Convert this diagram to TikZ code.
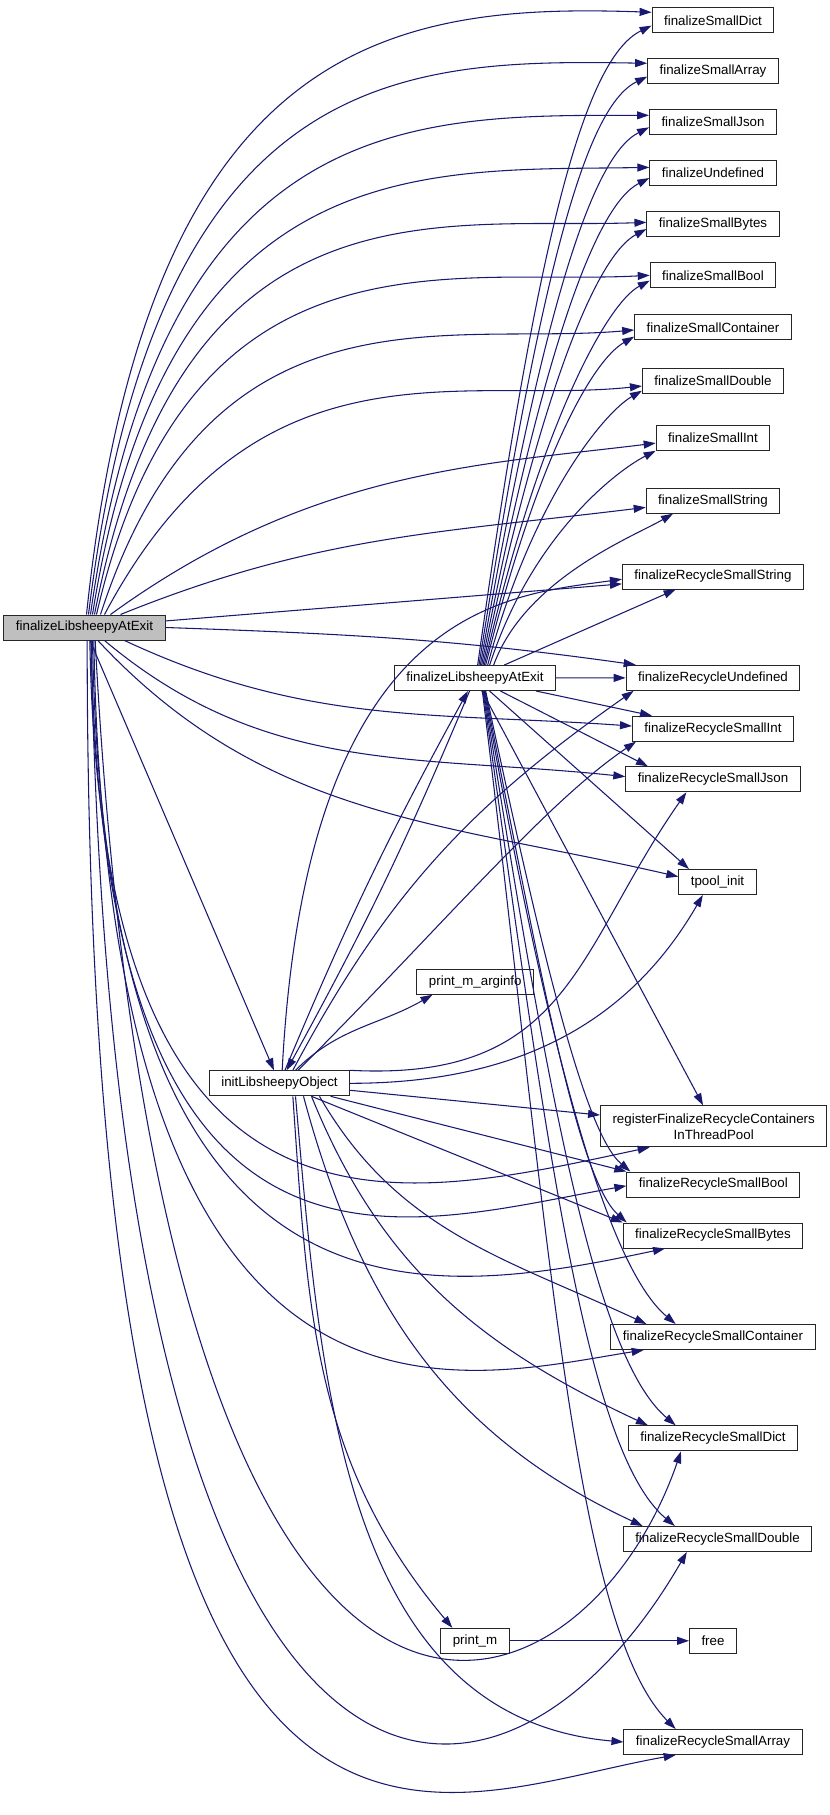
\documentclass[tikz,border=0pt]{standalone}
\usepackage{fontspec}
\setmainfont{Liberation Sans}
\usetikzlibrary{arrows.meta}
\definecolor{edgeblue}{HTML}{191970}
\definecolor{rootgray}{HTML}{BFBFBF}
\begin{document}
\begin{tikzpicture}[x=0.75pt, y=0.75pt,
    fn/.style={draw=black!85, fill=white, line width=0.75pt, font=\fontsize{10}{12}\selectfont,
               inner xsep=9pt, inner ysep=0pt, minimum height=18.75pt},
    call/.style={draw=edgeblue, line width=0.8pt, -{Triangle[length=9pt,width=6pt]}}]
  \useasboundingbox (0,0) rectangle (829,-1815);
  % callers
  \node[fn, fill=rootgray] (R) at (84.5,-627.5) {finalizeLibsheepyAtExit};
  \node[fn] (F2) at (475,-678) {finalizeLibsheepyAtExit};
  \node[fn] (init) at (279.5,-1083.3) {initLibsheepyObject};
  \node[fn] (pArg) at (475.3,-981.7) {print\_m\_arginfo};
  \node[fn] (pM) at (475,-1640.8) {print\_m};
  \node[fn] (free) at (713,-1640.8) {free};
  % small objects
  \node[fn] (sDict) at (713,-20.3) {finalizeSmallDict};
  \node[fn] (sArray) at (713,-71.3) {finalizeSmallArray};
  \node[fn] (sJson) at (713,-122) {finalizeSmallJson};
  \node[fn] (sUndef) at (713,-172.7) {finalizeUndefined};
  \node[fn] (sBytes) at (713,-223.7) {finalizeSmallBytes};
  \node[fn] (sBool) at (713,-275.3) {finalizeSmallBool};
  \node[fn] (sCont) at (713,-327.3) {finalizeSmallContainer};
  \node[fn] (sDouble) at (713,-380.7) {finalizeSmallDouble};
  \node[fn] (sInt) at (713,-437.8) {finalizeSmallInt};
  \node[fn] (sString) at (713,-500.7) {finalizeSmallString};
  % recycle
  \node[fn] (rString) at (713,-576.5) {finalizeRecycleSmallString};
  \node[fn] (rUndef) at (713,-677.8) {finalizeRecycleUndefined};
  \node[fn] (rInt) at (713,-728.7) {finalizeRecycleSmallInt};
  \node[fn] (rJson) at (713,-779.3) {finalizeRecycleSmallJson};
  \node[fn] (tpool) at (717.5,-882) {tpool\_init};
  \node[fn, align=center, minimum height=30.75pt] (reg) at (713.7,-1126.3) {registerFinalizeRecycleContainers\\InThreadPool};
  \node[fn] (rBool) at (713.3,-1184.5) {finalizeRecycleSmallBool};
  \node[fn] (rBytes) at (713,-1235.5) {finalizeRecycleSmallBytes};
  \node[fn] (rCont) at (713,-1337) {finalizeRecycleSmallContainer};
  \node[fn] (rDict) at (713,-1438.3) {finalizeRecycleSmallDict};
  \node[fn] (rDouble) at (717.5,-1539) {finalizeRecycleSmallDouble};
  \node[fn] (rArray) at (713,-1742) {finalizeRecycleSmallArray};

  % root -> small
  \path ([xshift=1.5pt]R.north) edge[call, out=84, in=178, out looseness=1.8, in looseness=0.8] ([yshift=6pt]sDict.west);
  \path ([xshift=3pt]R.north) edge[call, out=83, in=179, out looseness=1.8, in looseness=0.8] ([yshift=6pt]sArray.west);
  \path ([xshift=4.5pt]R.north) edge[call, out=82, in=180, out looseness=1.75, in looseness=0.8] ([yshift=5pt]sJson.west);
  \path ([xshift=6pt]R.north) edge[call, out=81, in=181, out looseness=1.7, in looseness=0.8] ([yshift=4pt]sUndef.west);
  \path ([xshift=7.5pt]R.north) edge[call, out=79, in=182, out looseness=1.7, in looseness=0.8] ([yshift=1pt]sBytes.west);
  \path ([xshift=9pt]R.north) edge[call, out=77, in=183, out looseness=1.6, in looseness=0.8] (sBool.west);
  \path ([xshift=12pt]R.north) edge[call, out=72, in=185, out looseness=1.5, in looseness=0.8] ([yshift=-2pt]sCont.west);
  \path ([xshift=15pt]R.north) edge[call, out=62, in=186, out looseness=1.4, in looseness=0.8] ([yshift=-4pt]sDouble.west);
  \path ([xshift=19.5pt]R.north) edge[call, out=36, in=187, out looseness=1.1, in looseness=0.8] ([yshift=-4pt]sInt.west);
  \path ([xshift=27pt]R.north) edge[call, out=22, in=187] ([yshift=-5pt]sString.west);
  % root -> recycle
  \path (R) edge[call] (rString);
  \path (R.east) edge[call, out=-2, in=172] ([xshift=7.5pt]rUndef.north west);
  \path ([xshift=30pt]R.south) edge[call, out=-25, in=176] ([yshift=2pt]rInt.west);
  \path ([xshift=15pt]R.south) edge[call, out=-40, in=174] ([yshift=2pt]rJson.west);
  \path ([xshift=10pt]R.south) edge[call, out=-47, in=167] ([yshift=4pt]tpool.west);
  \path (R) edge[call] (init);
  \path ([xshift=4pt]R.south) edge[call, out=-89, in=192, out distance=480pt, in distance=191pt] ([xshift=-48pt]reg.south);
  \path ([xshift=5pt]R.south) edge[call, out=-89, in=190, out distance=518pt, in distance=173pt] ([yshift=-1pt]rBool.west);
  \path ([xshift=6pt]R.south) edge[call, out=-89, in=192, out distance=532pt, in distance=188pt] ([xshift=-36pt]rBytes.south);
  \path ([xshift=7pt]R.south) edge[call, out=-89, in=189, out distance=630pt, in distance=140pt] ([xshift=-52pt]rCont.south);
  \path ([xshift=8pt]R.south) edge[call, out=-87, in=251, out distance=946pt, in distance=236pt] ([xshift=-24pt]rDict.south);
  \path ([xshift=5pt]R.south) edge[call, out=-89, in=240, out distance=945pt, in distance=283pt] ([xshift=-23pt]rDouble.south);
  \path ([xshift=2pt]R.south) edge[call, out=-90, in=190, out distance=1020pt, in distance=194pt] ([xshift=-28pt]rArray.south);

  % inner finalize -> small
  \path ([xshift=2pt]F2.north) edge[call, out=82, in=206, out looseness=1.6, in looseness=0.3] ([yshift=-4pt]sDict.west);
  \path ([xshift=3pt]F2.north) edge[call, out=81, in=206, out looseness=1.6, in looseness=0.3] ([yshift=-4pt]sArray.west);
  \path ([xshift=4pt]F2.north) edge[call, out=80, in=207, out looseness=1.6, in looseness=0.3] ([yshift=-4pt]sJson.west);
  \path ([xshift=5pt]F2.north) edge[call, out=79, in=207, out looseness=1.6, in looseness=0.3] ([yshift=-4pt]sUndef.west);
  \path ([xshift=6pt]F2.north) edge[call, out=78, in=208, out looseness=1.6, in looseness=0.3] ([yshift=-4pt]sBytes.west);
  \path ([xshift=7pt]F2.north) edge[call, out=77, in=208, out looseness=1.5, in looseness=0.3] ([yshift=-4pt]sBool.west);
  \path ([xshift=8pt]F2.north) edge[call, out=76, in=210, out looseness=1.5, in looseness=0.35] ([yshift=-7pt]sCont.west);
  \path ([xshift=9.5pt]F2.north) edge[call, out=75, in=210, out looseness=1.4, in looseness=0.35] ([yshift=-7.5pt]sDouble.west);
  \path ([xshift=11pt]F2.north) edge[call, out=72, in=207, out looseness=1.3, in looseness=0.4] (sInt.south west);
  \path ([xshift=14pt]F2.north) edge[call, out=70, in=210, out looseness=1.0, in looseness=0.5] ([xshift=-30pt]sString.south);
  \path ([xshift=22pt]F2.north) edge[call] ([xshift=-28pt]rString.south);
  % inner finalize -> recycle
  \path (F2) edge[call] (rUndef);
  \path (F2) edge[call] (rInt);
  \path (F2) edge[call] ([xshift=17pt]rJson.north west);
  \path (F2) edge[call] ([xshift=8pt]tpool.north west);
  \path (F2) edge[call] ([xshift=-8pt]reg.north);
  \path (F2) edge[call, bend left=3] (init);
  \path ([xshift=8pt]F2.south) edge[call, out=282, in=140, out looseness=1.4, in looseness=0.3] ([xshift=3pt]rBool.north west);
  \path ([xshift=7.5pt]F2.south) edge[call, out=281, in=138, out looseness=1.4, in looseness=0.3] ([xshift=3pt]rBytes.north west);
  \path ([xshift=7pt]F2.south) edge[call, out=280, in=140, out looseness=1.4, in looseness=0.35] ([xshift=-28pt]rCont.north);
  \path ([xshift=6.5pt]F2.south) edge[call, out=279, in=140, out looseness=1.4, in looseness=0.35] ([xshift=-28pt]rDict.north);
  \path ([xshift=6pt]F2.south) edge[call, out=278, in=140, out looseness=1.35, in looseness=0.35] ([xshift=-32pt]rDouble.north);
  \path ([xshift=5.5pt]F2.south) edge[call, out=277, in=135, out looseness=1.3, in looseness=0.35] ([xshift=-28pt]rArray.north);

  % init -> others
  \path (init) edge[call, bend left=3] (F2);
  \path ([xshift=2pt]init.north) edge[call, out=87, in=188, out looseness=2.0, in looseness=0.5] ([yshift=-2pt]rString.west);
  \path ([xshift=10pt]init.north) edge[call, out=62, in=215] ([xshift=6pt]rUndef.south west);
  \path ([xshift=14pt]init.north) edge[call, out=45, in=214, out distance=150pt, in distance=82pt] ([xshift=3pt]rInt.south west);
  \path (init.north east) edge[call, out=-3, in=235, out distance=165pt, in distance=145pt] ([xshift=-20pt]rJson.south);
  \path (init.east) edge[call, out=0, in=240] ([xshift=-11pt]tpool.south);
  \path ([xshift=12pt]init.north) edge[call, out=45, in=210] ([xshift=12pt]pArg.south west);
  \path (init) edge[call] (reg);
  \path (init) edge[call] (rBool.north west);
  \path (init) edge[call] (rBytes.north west);
  \path ([xshift=30pt]init.south) edge[call, out=-60, in=155] ([xshift=27pt]rCont.north west);
  \path ([xshift=24pt]init.south) edge[call, out=-68, in=155] ([xshift=15pt]rDict.north west);
  \path ([xshift=18pt]init.south) edge[call, out=-75, in=155] ([xshift=15pt]rDouble.north west);
  \path ([xshift=12pt]init.south) edge[call, out=-85, in=175] (rArray.west);
  \path ([xshift=10pt]init.south) edge[call, out=-86, in=130] ([xshift=-17pt]pM.north);
  \path (pM) edge[call] (free);
\end{tikzpicture}
\end{document}
